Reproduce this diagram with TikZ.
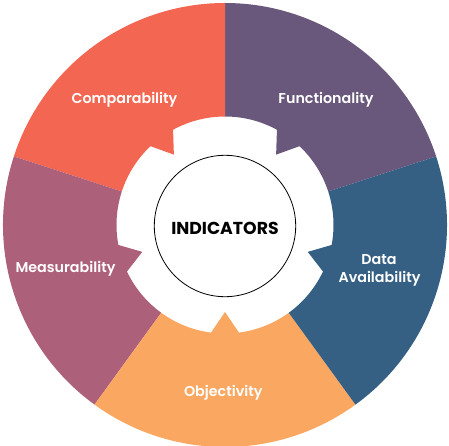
\documentclass[tikz,border=0pt]{standalone}
\usepackage{fontspec}
\newfontfamily\labfont{Poppins SemiBold}
\newfontfamily\titfont{Poppins Bold}
\definecolor{cRed}{HTML}{F26652}
\definecolor{cPurple}{HTML}{6A587C}
\definecolor{cBlue}{HTML}{366083}
\definecolor{cOrange}{HTML}{F9A761}
\definecolor{cMauve}{HTML}{AD6079}
\begin{document}
\begin{tikzpicture}[x=1pt,y=1pt,
  seglabel/.style={text=white,font=\labfont\fontsize{14.3}{16}\selectfont,anchor=base,inner sep=0pt},
  centerlabel/.style={text=black,font=\titfont\fontsize{17.3}{20}\selectfont,anchor=base,inner sep=0pt}]
\useasboundingbox (-225,-220) rectangle (224,225);
\def\Ro{222pt}
\def\Ri{108.5pt}
\def\Ra{87pt}
\def\dd{7.4}
% segment: #1 start angle, #2 end angle, #3 colour
\newcommand\segpiece[3]{%
  \pgfmathsetmacro\mid{(#1+#2)/2}%
  \pgfmathsetmacro\mA{\mid+\dd}%
  \pgfmathsetmacro\mB{\mid-\dd}%
  \fill[#3] (#1:\Ro) arc[start angle=#1,end angle=#2,radius=\Ro]
    -- (#2:\Ri) arc[start angle=#2,end angle=\mA,radius=\Ri]
    -- (\mid:\Ra) -- (\mB:\Ri)
    arc[start angle=\mB,end angle=#1,radius=\Ri] -- cycle;}
\segpiece{18}{90}{cPurple}
\segpiece{90}{162}{cRed}
\segpiece{162}{234}{cMauve}
\segpiece{234}{306}{cOrange}
\segpiece{306}{378}{cBlue}
\node[circle,draw=black,line width=0.8pt,minimum size=141.4pt,inner sep=0pt] (core) at (0,-1) {};
\node[centerlabel] (ind) at (0,-9) {INDICATORS};
\node[seglabel] (comp) at (-100.5,121.7) {Comparability};
\node[seglabel] (func) at (101,121.7) {Functionality};
\node[seglabel] (data1) at (154,-39.3) {Data};
\node[seglabel] (data2) at (154.5,-57.3) {Availability};
\node[seglabel] (meas) at (-159.5,-47.2) {Measurability};
\node[seglabel] (obj) at (-1.7,-171.5) {Objectivity};
\end{tikzpicture}
\end{document}
